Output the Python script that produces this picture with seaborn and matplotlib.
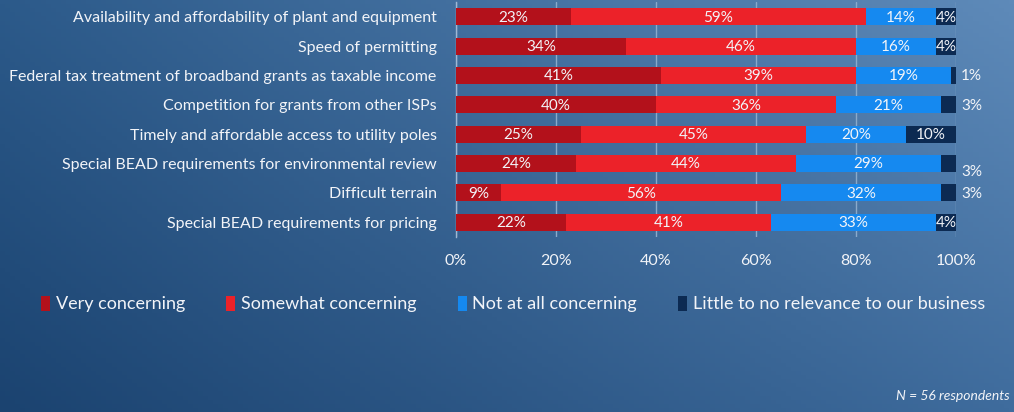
import numpy as np
import pandas as pd
import matplotlib
matplotlib.use("Agg")
import matplotlib.pyplot as plt
import seaborn as sns
from matplotlib.patches import Patch

# =========================
# DATA
# =========================
CATEGORIES = [
    "Availability and affordability of plant and equipment",
    "Speed of permitting",
    "Federal tax treatment of broadband grants as taxable income",
    "Competition for grants from other ISPs",
    "Timely and affordable access to utility poles",
    "Special BEAD requirements for environmental review",
    "Difficult terrain",
    "Special BEAD requirements for pricing",
]
VERY = [23, 34, 41, 40, 25, 24, 9, 22]
SOMEWHAT = [59, 46, 39, 36, 45, 44, 56, 41]
NOT_AT_ALL = [14, 16, 19, 21, 20, 29, 32, 33]
LITTLE = [4, 4, 1, 3, 10, 3, 3, 4]

SERIES = ["Very concerning", "Somewhat concerning", "Not at all concerning",
          "Little to no relevance to our business"]
COLORS = ["#b3111b", "#ec2229", "#1589f0", "#0c2a52"]
X_TICKS = [0, 20, 40, 60, 80, 100]
NOTE = "N = 56 respondents"

# =========================
# STYLE
# =========================
sns.set_style("white")
plt.rcParams["font.family"] = ["Lato", "DejaVu Sans"]
TXT = "#f2f4f8"

df = pd.DataFrame({"cat": CATEGORIES, SERIES[0]: VERY, SERIES[1]: SOMEWHAT,
                   SERIES[2]: NOT_AT_ALL, SERIES[3]: LITTLE})
vals = df[SERIES].to_numpy(dtype=float)
cum = np.cumsum(vals, axis=1)

fig = plt.figure(figsize=(10.14, 4.12), dpi=100)

# gradient background
bg = fig.add_axes([0, 0, 1, 1], zorder=-10)
tl, tr = np.array([0x2c, 0x5a, 0x8a]), np.array([0x5e, 0x8a, 0xb9])
bl, br = np.array([0x1b, 0x43, 0x70]), np.array([0x3f, 0x6c, 0x9d])
u = np.linspace(0, 1, 200)[None, :, None]
v = np.linspace(0, 1, 100)[:, None, None]
img = (1 - v) * ((1 - u) * tl + u * tr) + v * ((1 - u) * bl + u * br)
bg.imshow(img / 255.0, aspect="auto", extent=[0, 1, 0, 1])
bg.axis("off")

ax = fig.add_axes([0.4497, 0.425, 0.4931, 0.570])
ax.patch.set_alpha(0)

# stacked bars: draw cumulative totals back to front
for i in range(3, -1, -1):
    d = pd.DataFrame({"cat": CATEGORIES, "val": cum[:, i]})
    sns.barplot(data=d, y="cat", x="val", color=COLORS[i], orient="y",
                width=0.58, saturation=1, ax=ax, zorder=3, linewidth=0)

# value labels
for r in range(len(CATEGORIES)):
    for i in range(4):
        v_ = vals[r, i]
        center = cum[r, i] - v_ / 2
        if i == 3 and v_ <= 3:
            dy = 0.3 if r == 5 else 0.03
            ax.text(101.0, r + dy, f"{int(v_)}%", color=TXT, fontsize=11,
                    ha="left", va="center", zorder=5)
        else:
            ax.text(center, r + 0.03, f"{int(v_)}%", color=TXT, fontsize=11,
                    ha="center", va="center", zorder=5)

ax.set_xlim(0, 100)
ax.set_ylim(len(CATEGORIES) - 0.5, -0.5)
ax.set_xticks(X_TICKS)
ax.set_xticklabels([f"{t}%" for t in X_TICKS], color=TXT, fontsize=11.5)
ax.set_yticks(range(len(CATEGORIES)))
ax.set_yticklabels(CATEGORIES, color=TXT, fontsize=11.5)
ax.tick_params(axis="y", length=0, pad=14)
ax.tick_params(axis="x", length=0, pad=12)
ax.set_xlabel("")
ax.set_ylabel("")
ax.grid(axis="x", color="#8aaacb", linewidth=1, zorder=0)
ax.set_axisbelow(True)
for s in ["top", "right", "bottom"]:
    ax.spines[s].set_visible(False)
ax.spines["left"].set_color("#9fb8d4")
ax.spines["left"].set_linewidth(1)
# small boundary ticks on the category axis
ax.set_yticks(np.arange(-0.5, len(CATEGORIES), 1), minor=True)
ax.tick_params(axis="y", which="minor", length=5, color="#9fb8d4", width=1)

handles = [Patch(facecolor=c, edgecolor="none", label=s) for c, s in zip(COLORS, SERIES)]
fig.legend(handles=handles, loc="center", bbox_to_anchor=(0.506, 0.262), ncol=4,
           frameon=False, fontsize=13, labelcolor=TXT, handlelength=0.5,
           handleheight=0.9, handletextpad=0.3, columnspacing=2.3)

fig.text(0.996, 0.04, NOTE, color=TXT, fontsize=10, style="italic",
         ha="right", va="center")

fig.savefig("out.png", dpi=100)
